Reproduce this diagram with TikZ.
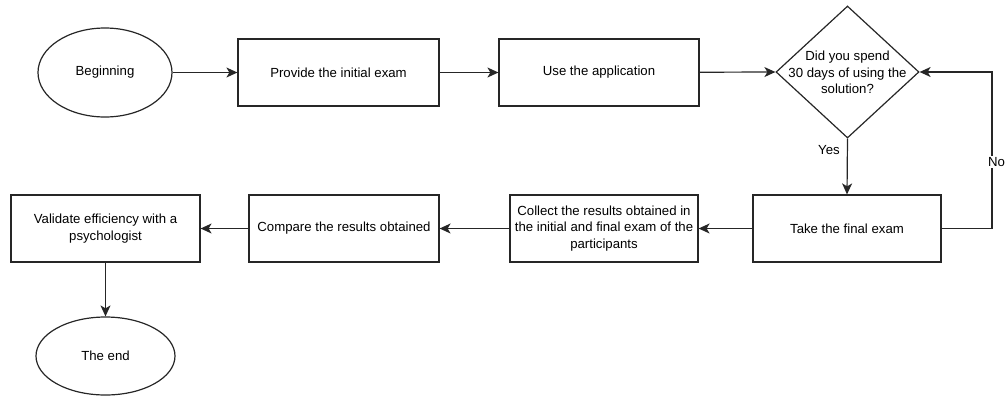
\documentclass[tikz,border=0pt]{standalone}
\usepackage{fontspec}
\setmainfont{Liberation Sans}
\usetikzlibrary{shapes.geometric,arrows.meta}
\begin{document}
\begin{tikzpicture}[x=1pt,y=-1pt,
  every node/.style={font=\fontsize{13.2pt}{16.3pt}\selectfont, align=center},
  box/.style={draw=black!85, line width=1.2pt, rectangle, minimum width=201pt, minimum height=67pt, inner sep=0pt},
  ell/.style={draw=black!85, line width=1.2pt, ellipse, inner sep=0pt},
  dia/.style={draw=black!85, line width=1.2pt, diamond, minimum width=143pt, minimum height=132pt, inner sep=0pt},
  conn/.style={draw=black!85, line width=1.2pt, -{Stealth[length=11pt,width=10pt,inset=3pt]}},
  lbl/.style={fill=white, inner sep=1pt}
]
\useasboundingbox (0,0) rectangle (1006,397);
\node[ell, minimum width=134pt, minimum height=89pt] (begin) at (105,72.5) {Beginning};
\node[box] (provide) at (338.5,72.5) {Provide the initial exam};
\node[box, minimum width=200pt] (use) at (599,72.5) {Use the application};
\node[dia] (dec) at (847.5,72) {};
\node (dectext) at (847.5,72.5) {Did you spend\\30 days of using the\\solution?};
\node[box, minimum width=188pt] (take) at (847,228.5) {Take the final exam};
\node[box, minimum width=188pt] (collect) at (604,228.5) {Collect the results obtained in\\the initial and final exam of the\\participants};
\node[box, minimum width=190pt] (compare) at (344,228.5) {Compare the results obtained};
\node[box, minimum width=189pt] (validate) at (105.5,228.5) {Validate efficiency with a\\psychologist};
\node[ell, minimum width=139pt, minimum height=78pt] (theend) at (105.5,356) {The end};
\coordinate (c1) at (992,228.5);
\coordinate (c2) at (992,72);
\node (yes) at (829,150) {Yes};

\draw[conn] (begin) -- (provide);
\draw[conn] (provide) -- (use);
\draw[conn] (use) -- (dec.west);
\draw[conn] (dec.south) -- (take.north);
\draw[conn] (take.east) -- (c1) -- (c2) -- (dec.east);
\draw[conn] (take) -- (collect);
\draw[conn] (collect) -- (compare);
\draw[conn] (compare) -- (validate);
\draw[conn] (validate) -- (theend);
\node[lbl, anchor=west, inner xsep=0pt] (no) at (988,162) {No};
\end{tikzpicture}
\end{document}
